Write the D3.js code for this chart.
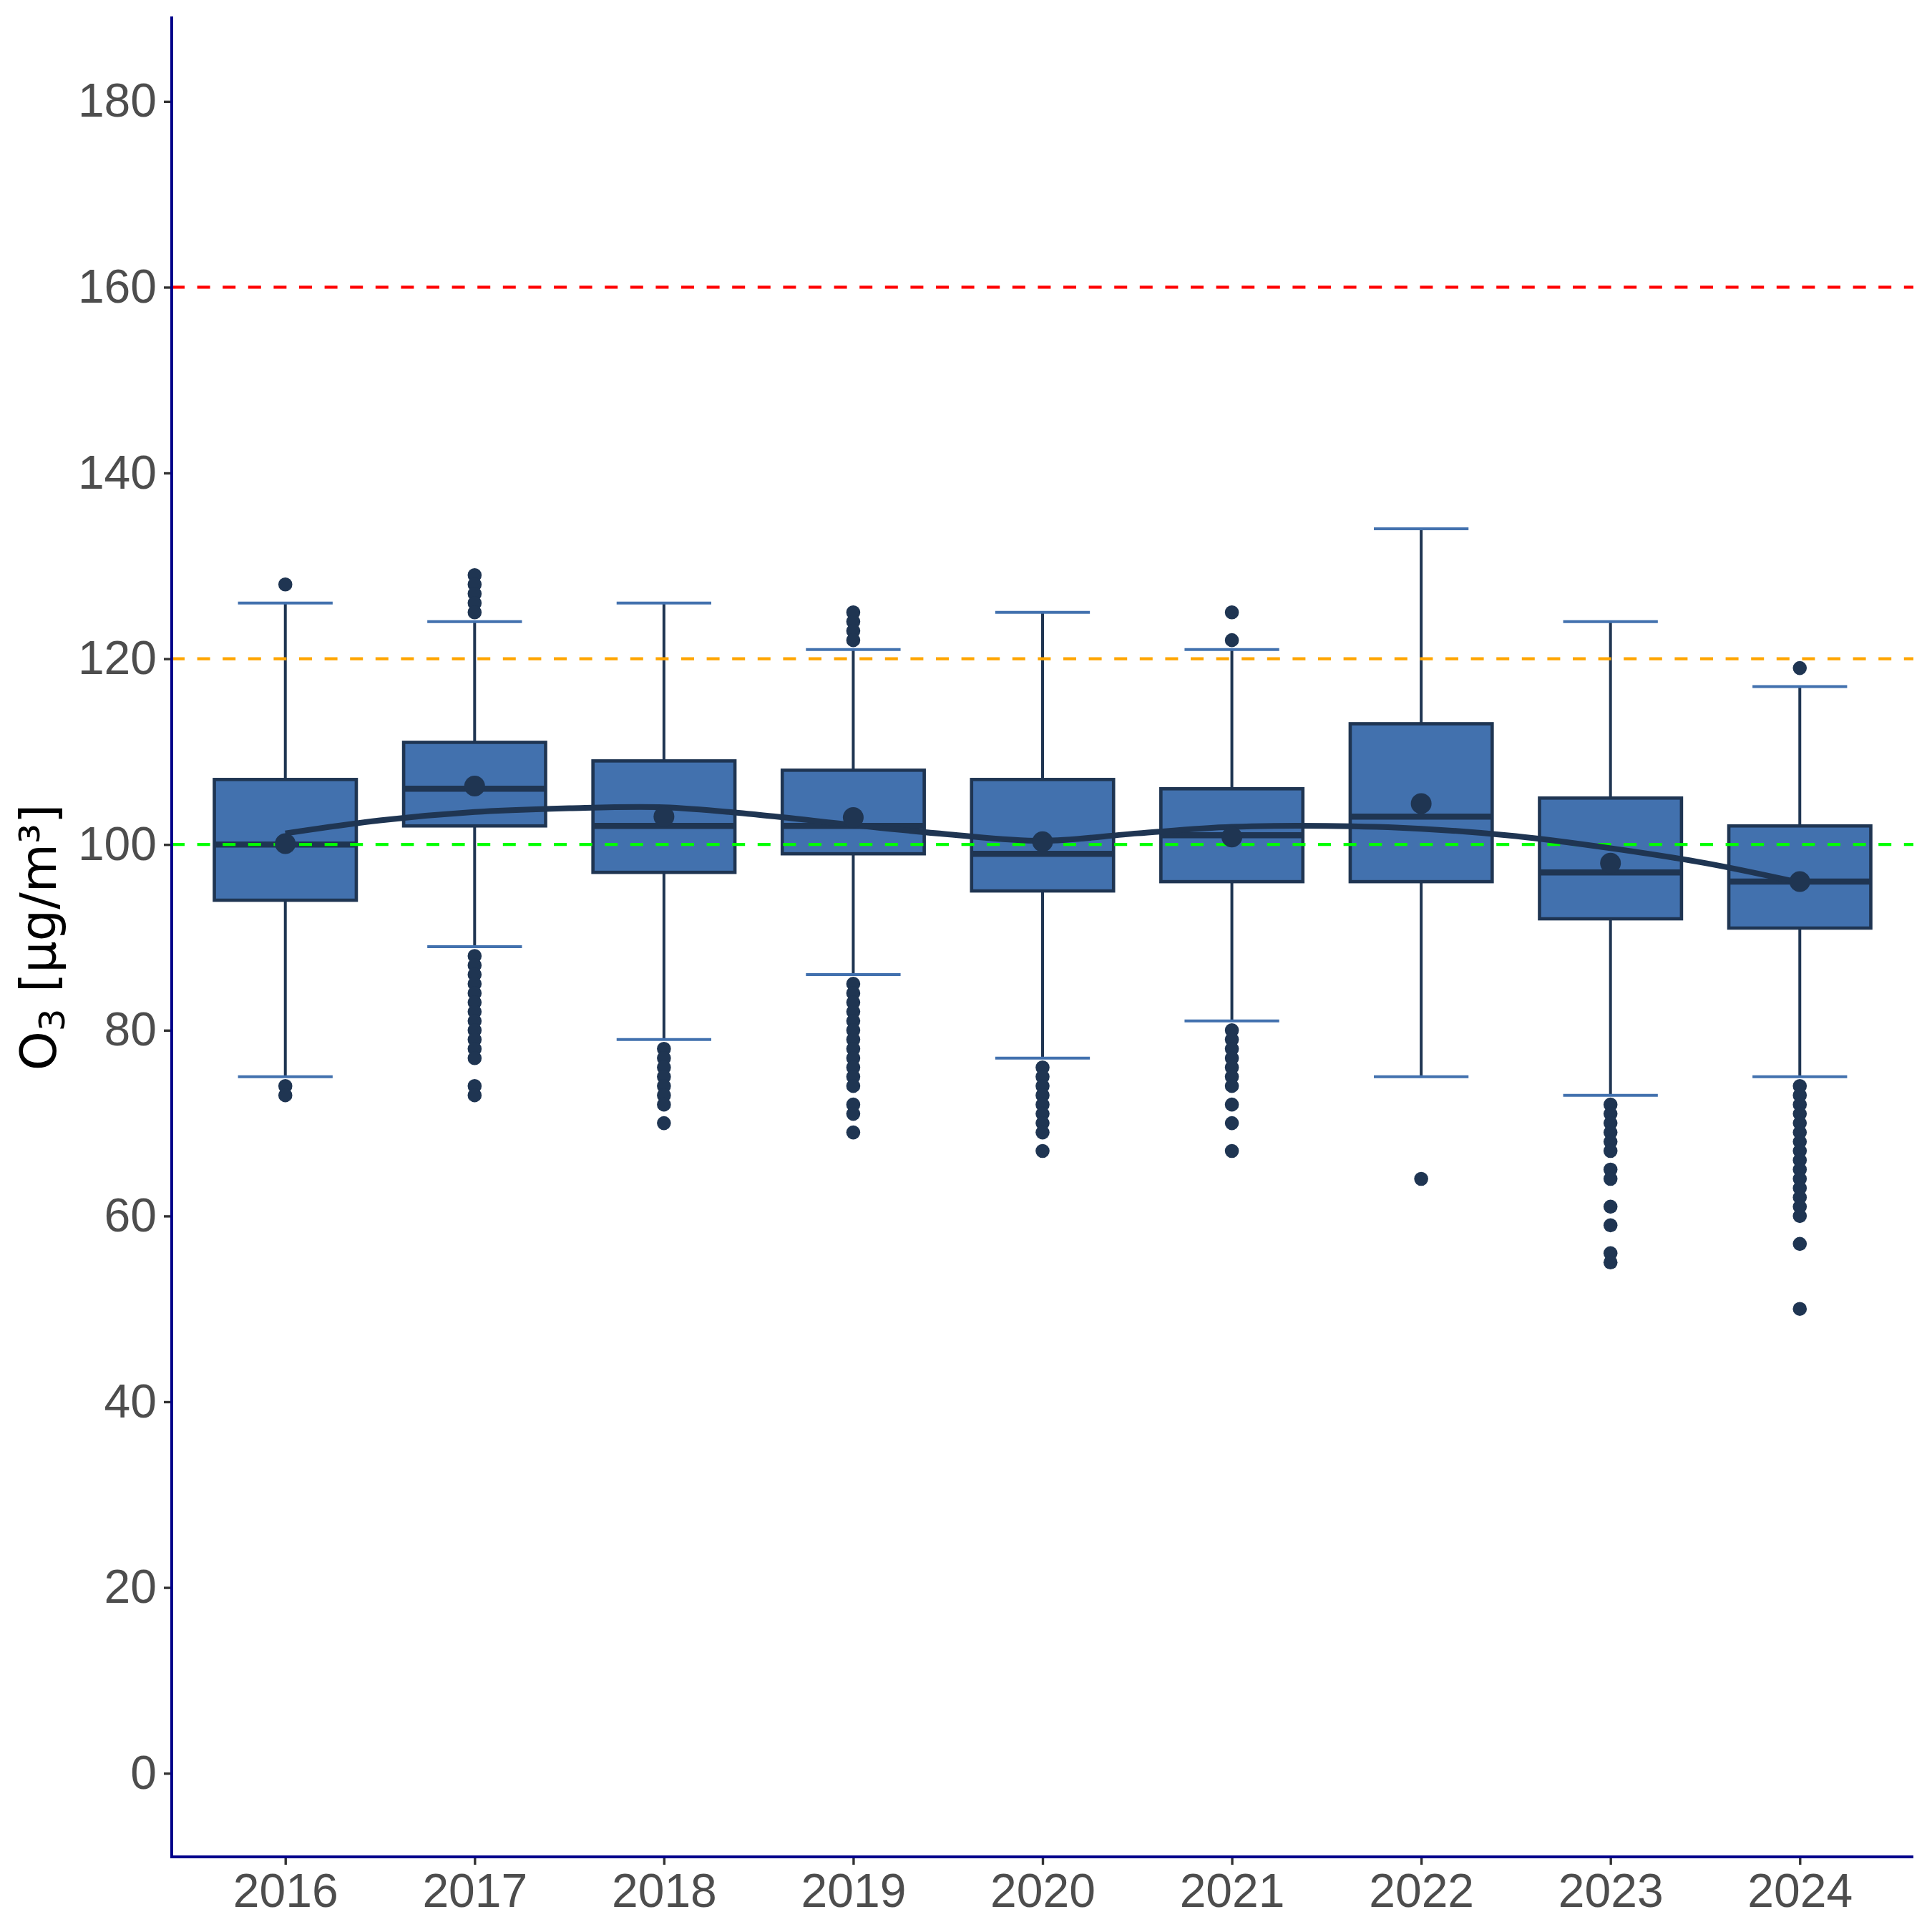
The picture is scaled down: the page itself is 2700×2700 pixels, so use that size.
<!DOCTYPE html>
<html>
<head>
<meta charset="utf-8">
<script src="https://cdn.jsdelivr.net/npm/d3@7/dist/d3.min.js"></script>
<style>
  html, body { margin: 0; padding: 0; background: #ffffff; }
  svg { display: block; }
</style>
</head>
<body>
<script>
// ---------------- DATA ----------------
const years = ["2016","2017","2018","2019","2020","2021","2022","2023","2024"];
const q1 =        [94, 102, 97, 99, 95, 96, 96, 92, 91];
const medians =   [100, 106, 102, 102, 99, 101, 103, 97, 96];
const q3 =        [107, 111, 109, 108, 107, 106, 113, 105, 102];
const whiskLow =  [75, 89, 79, 86, 77, 81, 75, 73, 75];
const whiskHigh = [126, 124, 126, 121, 125, 121, 134, 124, 117];
const means =     [100.1, 106.3, 103.0, 102.9, 100.3, 100.8, 104.4, 98.0, 96.0];
const outliers = [
  [128, 74, 73],
  [129, 128, 127, 126, 125, 88, 87, 86, 85, 84, 83, 82, 81, 80, 79, 78, 77, 74, 73],
  [78, 77, 76, 75, 74, 73, 72, 70],
  [125, 124, 123, 122, 85, 84, 83, 82, 81, 80, 79, 78, 77, 76, 75, 74, 72, 71, 69],
  [76, 75, 74, 73, 72, 71, 70, 69, 67],
  [125, 122, 80, 79, 78, 77, 76, 75, 74, 72, 70, 67],
  [64],
  [72, 71, 70, 69, 68, 67, 65, 64, 61, 59, 56, 55],
  [119, 74, 73, 72, 71, 70, 69, 68, 67, 66, 65, 64, 63, 62, 61, 60, 57, 50]
];
// smoothed trend (position index along x, value)
const smoothPos = [1, 1.5, 2, 2.5, 3, 3.5, 4, 4.5, 5, 5.5, 6, 6.5, 7, 7.5, 8, 8.5, 9];
const smoothVal = [101.2, 102.6, 103.5, 103.9, 104.0, 103.2, 102.1, 101.1, 100.4, 101.2, 101.9, 102.0, 101.7, 100.9, 99.6, 98.0, 95.9];
const refLines = [160, 120, 100];
const refColors = ["#FF0000", "#FFA500", "#00FF00"];
const yTicks = [0, 20, 40, 60, 80, 100, 120, 140, 160, 180];

// ---------------- LAYOUT ----------------
const W = 2700, H = 2700;
const pLeft = 240, pRight = 2674, pTop = 25, pBottom = 2595;
const fillC = "#4271AE", lineC = "#1F3552";

const svg = d3.select("body").append("svg").attr("width", W).attr("height", H);

const xPos = d3.scaleLinear().domain([0.4, years.length + 0.6]).range([pLeft, pRight]);
const y = d3.scaleLinear().domain([-9, 189]).range([pBottom, pTop]);
const bw = xPos(1.375) - xPos(1);   // half box width (0.75)
const cw = xPos(1.25) - xPos(1);    // half cap width (0.5)

// boxes
const g = svg.append("g");
years.forEach((yr, i) => {
  const cx = xPos(i + 1);
  g.append("line").attr("x1", cx).attr("x2", cx).attr("y1", y(q3[i])).attr("y2", y(whiskHigh[i]))
    .attr("stroke", lineC).attr("stroke-width", 4);
  g.append("line").attr("x1", cx).attr("x2", cx).attr("y1", y(q1[i])).attr("y2", y(whiskLow[i]))
    .attr("stroke", lineC).attr("stroke-width", 4);
  [whiskHigh[i], whiskLow[i]].forEach(v => {
    g.append("line").attr("x1", cx - cw).attr("x2", cx + cw).attr("y1", y(v)).attr("y2", y(v))
      .attr("stroke", fillC).attr("stroke-width", 4);
  });
  g.append("rect").attr("x", cx - bw).attr("width", 2 * bw)
    .attr("y", y(q3[i])).attr("height", y(q1[i]) - y(q3[i]))
    .attr("fill", fillC).attr("stroke", lineC).attr("stroke-width", 4.6);
  g.append("line").attr("x1", cx - bw).attr("x2", cx + bw).attr("y1", y(medians[i])).attr("y2", y(medians[i]))
    .attr("stroke", lineC).attr("stroke-width", 8.5);
});

// reference lines
refLines.forEach((v, i) => {
  svg.append("line").attr("x1", pLeft).attr("x2", pRight).attr("y1", y(v)).attr("y2", y(v))
    .attr("stroke", refColors[i]).attr("stroke-width", 4.2).attr("stroke-dasharray", "18,17.6");
});

// outliers
years.forEach((yr, i) => {
  svg.append("g").selectAll("circle").data(outliers[i]).join("circle")
    .attr("cx", xPos(i + 1)).attr("cy", d => y(d)).attr("r", 9.8).attr("fill", lineC);
});

// smooth line
const line = d3.line().x(d => xPos(d[0])).y(d => y(d[1])).curve(d3.curveCatmullRom.alpha(0.5));
svg.append("path").datum(smoothPos.map((p, i) => [p, smoothVal[i]]))
  .attr("d", line).attr("fill", "none").attr("stroke", lineC).attr("stroke-width", 8);

// means
svg.append("g").selectAll("circle").data(means).join("circle")
  .attr("cx", (d, i) => xPos(i + 1)).attr("cy", d => y(d)).attr("r", 14.5).attr("fill", lineC);

// ---------------- AXES ----------------
const tickFont = "'Liberation Sans', Arial, sans-serif";
const yAxis = svg.append("g").attr("transform", `translate(${pLeft},0)`)
  .call(d3.axisLeft(y).tickValues(yTicks).tickSize(11).tickPadding(10).tickFormat(d3.format("d")));
yAxis.select(".domain").remove();
yAxis.selectAll(".tick line").attr("stroke", "#333333").attr("stroke-width", 3.4);
yAxis.selectAll(".tick text").attr("fill", "#4D4D4D").attr("font-size", 66).attr("font-family", tickFont);

const xAxis = svg.append("g").attr("transform", `translate(0,${pBottom})`)
  .call(d3.axisBottom(xPos).tickValues(years.map((d, i) => i + 1)).tickSize(11).tickPadding(12)
    .tickFormat((d) => years[d - 1]));
xAxis.select(".domain").remove();
xAxis.selectAll(".tick line").attr("stroke", "#333333").attr("stroke-width", 3.4);
xAxis.selectAll(".tick text").attr("fill", "#4D4D4D").attr("font-size", 66).attr("font-family", tickFont);

// axis lines
svg.append("line").attr("x1", pLeft).attr("x2", pLeft).attr("y1", pTop - 2).attr("y2", pBottom + 2)
  .attr("stroke", "#00008B").attr("stroke-width", 4);
svg.append("line").attr("x1", pLeft - 2).attr("x2", pRight).attr("y1", pBottom).attr("y2", pBottom)
  .attr("stroke", "#00008B").attr("stroke-width", 4);

// y title
const title = svg.append("text")
  .attr("transform", `translate(78,${(pTop + pBottom) / 2}) rotate(-90)`)
  .attr("text-anchor", "middle")
  .attr("font-family", "'DejaVu Sans', Verdana, sans-serif")
  .attr("font-size", 70).attr("fill", "#000000");
title.append("tspan").text("O");
title.append("tspan").attr("font-size", 50).attr("dy", 12).text("3");
title.append("tspan").attr("dy", -12).text(" [µg/m³]");
</script>
</body>
</html>
